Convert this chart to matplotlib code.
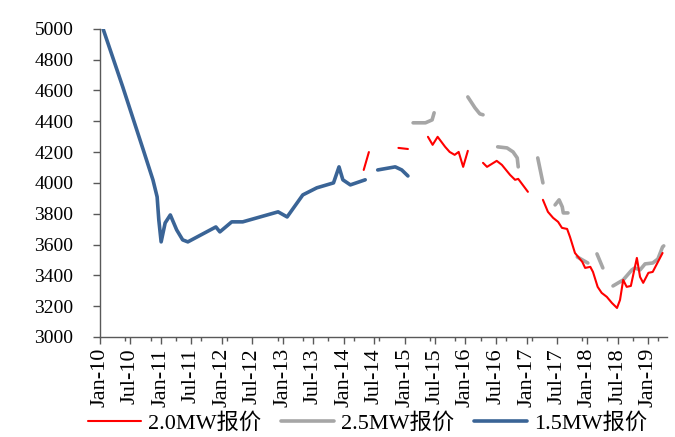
import numpy as np
import pandas as pd
import matplotlib
matplotlib.use('Agg')
import matplotlib.pyplot as plt

# 1.5MW bid price (NaN = no data)
dates_15 = ['2010-01-20', '2010-05-18', '2010-09-18', '2010-11-15', '2010-12-10', '2010-12-20',
            '2011-01-03', '2011-01-27', '2011-02-27', '2011-04-06', '2011-05-12', '2011-06-12',
            '2011-11-27', '2011-12-21', '2012-03-01', '2012-05-06',
            '2012-12-04', '2013-01-27', '2013-05-01', '2013-07-24', '2013-11-01', '2013-12-04',
            '2013-12-27', '2014-02-10', '2014-05-10', '2014-06-15',
            '2014-07-24', '2014-11-06', '2014-12-15', '2015-01-21']
price_15 = [5000, 4623, 4214, 4019, 3909, 3760,
            3617, 3740, 3792, 3695, 3630, 3617,
            3714, 3682, 3747, 3747,
            3812, 3779, 3922, 3968, 4000, 4104,
            4020, 3987, 4020, np.nan,
            4084, 4104, 4084, 4045]

# 2.0MW bid price
dates_20 = ['2014-05-01', '2014-06-01', '2014-08-01',
            '2014-11-25', '2015-01-21', '2015-03-01',
            '2015-05-21', '2015-06-18', '2015-07-18', '2015-09-01', '2015-09-28', '2015-10-28',
            '2015-11-21', '2015-12-18', '2016-01-15', '2016-02-15',
            '2016-04-15', '2016-05-09', '2016-07-06', '2016-08-06', '2016-09-24', '2016-10-24',
            '2016-11-12', '2017-01-09', '2017-02-15',
            '2017-04-09', '2017-05-09', '2017-06-09', '2017-07-09', '2017-08-01', '2017-09-01',
            '2017-09-18', '2017-10-18', '2017-12-01', '2017-12-18', '2018-01-18', '2018-02-03',
            '2018-03-03', '2018-03-27', '2018-04-27', '2018-05-27', '2018-06-27', '2018-07-15',
            '2018-08-03', '2018-08-24', '2018-09-18', '2018-10-24', '2018-11-12', '2018-12-01',
            '2019-01-01', '2019-01-27', '2019-03-27']
price_20 = [4084, 4200, np.nan,
            4227, 4220, np.nan,
            4299, 4247, 4299, 4234, 4201, 4182,
            4201, 4104, 4208, np.nan,
            4130, 4104, 4143, 4117, 4052, 4020,
            4026, 3942, np.nan,
            3890, 3812, 3773, 3747, 3708, 3701,
            3650, 3545, 3487, 3448, 3455, 3422,
            3325, 3286, 3260, 3221, 3188, 3240,
            3370, 3325, 3331, 3513, 3390, 3351,
            3416, 3422, 3545]

# 2.5MW bid price
dates_25 = ['2015-02-21', '2015-05-06', '2015-06-15', '2015-06-27', '2015-08-01',
            '2016-01-15', '2016-02-27', '2016-03-27', '2016-04-15', '2016-05-15',
            '2016-07-12', '2016-09-06', '2016-10-12', '2016-11-06', '2016-11-12', '2016-12-15',
            '2017-03-09', '2017-04-09', '2017-05-01',
            '2017-06-21', '2017-07-15', '2017-08-03', '2017-08-09', '2017-09-06', '2017-10-01',
            '2017-11-01', '2018-01-03', '2018-01-15',
            '2018-02-27', '2018-04-03', '2018-04-20',
            '2018-06-03', '2018-08-03', '2018-09-24', '2018-10-12', '2018-11-12', '2018-12-12',
            '2019-01-27', '2019-02-27', '2019-03-27', '2019-04-03']
price_25 = [4390, 4390, 4409, 4455, np.nan,
            4558, 4487, 4448, 4442, np.nan,
            4234, 4227, 4201, 4162, 4104, np.nan,
            4162, 4000, np.nan,
            3857, 3890, 3844, 3805, 3805, np.nan,
            3519, 3480, np.nan,
            3539, 3448, np.nan,
            3331, 3370, 3435, 3448, 3435, 3474,
            3480, 3506, 3584, 3591]

tick_labels = ['Jan-10', 'Jul-10', 'Jan-11', 'Jul-11', 'Jan-12', 'Jul-12', 'Jan-13', 'Jul-13',
               'Jan-14', 'Jul-14', 'Jan-15', 'Jul-15', 'Jan-16', 'Jul-16', 'Jan-17', 'Jul-17',
               'Jan-18', 'Jul-18', 'Jan-19']

plt.rcParams['font.family'] = ['Liberation Serif', 'Noto Sans CJK SC']

fig = plt.figure(figsize=(6.75, 4.37), dpi=100)
ax = fig.add_axes([0.148, 0.229, 0.840, 0.705])

ax.plot(pd.to_datetime(dates_20), price_20, color='#ff0000', linewidth=1.5,
        label='2.0MW报价', solid_joinstyle='round', solid_capstyle='round', zorder=3)
ax.plot(pd.to_datetime(dates_25), price_25, color='#a6a6a6', linewidth=2.6,
        label='2.5MW报价', solid_joinstyle='round', solid_capstyle='round', zorder=2)
ax.plot(pd.to_datetime(dates_15), price_15, color='#3a6496', linewidth=2.6,
        label='1.5MW报价', solid_joinstyle='round', solid_capstyle='round', zorder=2)

ax.set_ylim(3000, 5000)
ax.set_yticks(range(3000, 5001, 200))
ax.set_xlim(pd.Timestamp('2010-01-01'), pd.Timestamp('2019-04-22'))

tick_pos = pd.to_datetime(tick_labels, format='%b-%y')
ax.set_xticks(tick_pos)
ax.set_xticklabels(tick_labels, rotation=90, fontsize=16)
ax.set_xticks(pd.date_range('2010-01-01', '2019-04-01', freq='5MS'), minor=True)

ax.tick_params(axis='both', which='major', direction='out', length=5, width=1,
               color='#595959')
ax.tick_params(axis='y', labelsize=14, pad=14)
ax.tick_params(axis='x', pad=3)
ax.tick_params(axis='x', which='minor', direction='out', length=3, width=1, color='#595959')
for side in ['top', 'right']:
    ax.spines[side].set_visible(False)
for side in ['left', 'bottom']:
    ax.spines[side].set_color('#595959')
    ax.spines[side].set_linewidth(1)

fig.legend(loc='center', bbox_to_anchor=(0.544, 0.03), ncol=3, frameon=False,
           fontsize=16, handlelength=2.4, handletextpad=0.3, columnspacing=0.9,
           borderpad=0.1)

plt.savefig('out.png', dpi=100)
plt.close()
